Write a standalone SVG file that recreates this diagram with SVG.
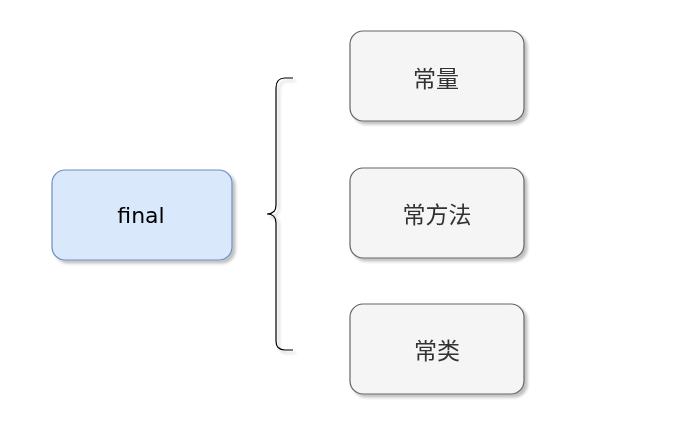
<svg xmlns="http://www.w3.org/2000/svg" width="696" height="435" viewBox="0 0 696 435">
<style>
.blue{fill:#dae8fc;stroke:#6c8ebf;stroke-width:1.2}
.gray{fill:#f5f5f5;stroke:#666666;stroke-width:1.2}
.t{font-family:"Noto Sans CJK SC","DejaVu Sans",sans-serif;font-size:23px;fill:#333333;text-anchor:middle;dominant-baseline:central}
.tf{font-family:"DejaVu Sans",sans-serif;font-size:22px;fill:#000000;text-anchor:middle;dominant-baseline:central}
.brace{fill:none;stroke:#000000;stroke-width:1.2}
</style>
<defs>
<filter id="sh" x="-10%" y="-10%" width="130%" height="130%">
<feGaussianBlur in="SourceAlpha" stdDeviation="1.5"/>
<feOffset dx="3" dy="3" result="b"/>
<feComponentTransfer><feFuncA type="linear" slope="0.25"/></feComponentTransfer>
<feMerge><feMergeNode/><feMergeNode in="SourceGraphic"/></feMerge>
</filter>
</defs>
<rect width="696" height="435" fill="#ffffff"/>
<g id="final" filter="url(#sh)">
<rect class="blue" x="52" y="170" width="180" height="90" rx="13" ry="13"/>
<text class="tf" x="141" y="215">final</text>
</g>
<g id="connectors" filter="url(#sh)">
<path class="brace" d="M293,78 L285,78 Q276,78 276,88 L276,205 Q276,214 267,214 Q276,214 276,223 L276,341 Q276,350 285,350 L293,350"/>
</g>
<g id="constant" filter="url(#sh)">
<rect class="gray" x="350" y="31" width="174" height="90" rx="13" ry="13"/>
<text class="t" x="436" y="77">常量</text>
</g>
<g id="method" filter="url(#sh)">
<rect class="gray" x="350" y="168" width="174" height="90" rx="13" ry="13"/>
<text class="t" x="437" y="213">常方法</text>
</g>
<g id="class" filter="url(#sh)">
<rect class="gray" x="350" y="304" width="174" height="90" rx="13" ry="13"/>
<text class="t" x="437" y="349">常类</text>
</g>
</svg>
